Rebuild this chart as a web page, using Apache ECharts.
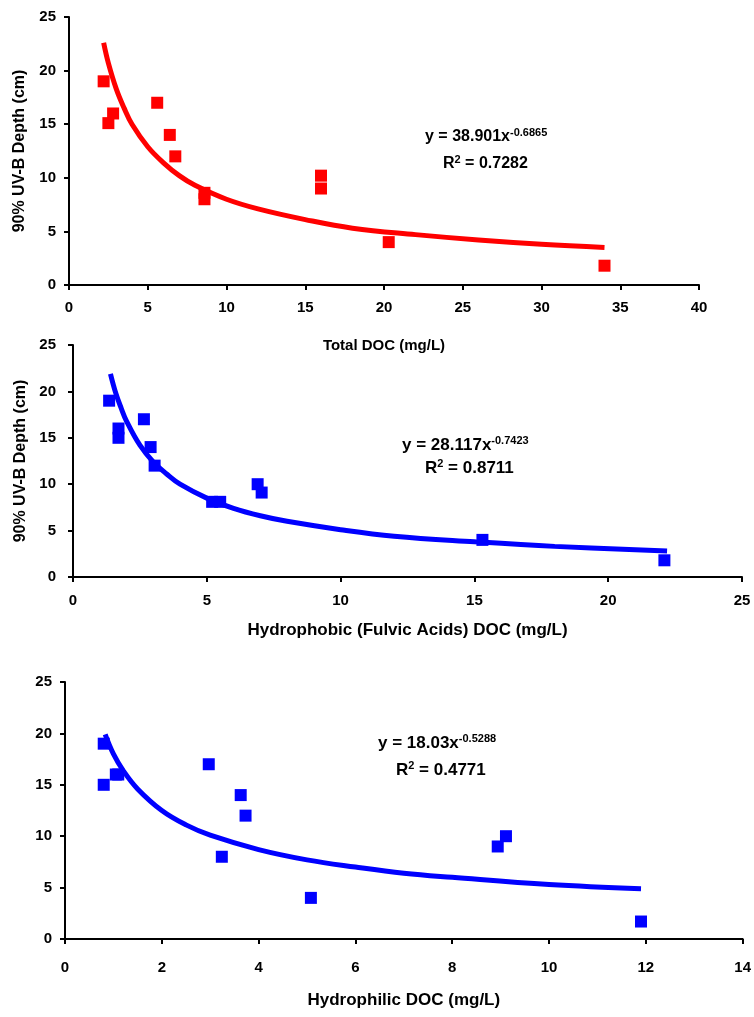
<!DOCTYPE html>
<html>
<head>
<meta charset="utf-8">
<title>UV-B depth vs DOC</title>
<script src="https://cdn.jsdelivr.net/npm/echarts@6/dist/echarts.min.js"></script>
<style>
    html, body { margin: 0; padding: 0; background: #fff; }
    #main { width: 754px; height: 1017px; }
</style>
</head>
<body>
<div id="main"></div>
<script>
    // measured points, [DOC mg/L, 90% UV-B depth cm]
    var totalPts = [[2.2, 19], [2.5, 15.1], [2.8, 16], [5.6, 17], [6.4, 14], [6.75, 12],
        [8.6, 8.6], [8.6, 8], [16, 10.2], [16, 9], [20.3, 4], [34, 1.8]];
    var phobicPts = [[1.35, 19], [1.7, 16], [1.7, 15], [2.65, 17], [2.9, 14], [3.05, 12],
        [5.2, 8.1], [5.5, 8.1], [6.9, 10], [7.05, 9.1], [15.3, 4], [22.1, 1.8]];
    var philicPts = [[0.8, 19], [0.8, 15], [1.05, 16], [1.1, 16], [2.97, 17], [3.63, 14],
        [3.73, 12], [3.24, 8], [5.08, 4], [8.94, 9], [9.11, 10], [11.9, 1.7]];

    // power trendlines
    var totalFit = [[2.2, 22.6], [2.5, 20.7], [3, 18.3], [3.5, 16.5], [4, 15.0], [5, 12.9], [6, 11.4],
        [7, 10.2], [8, 9.3], [10, 8.0], [12, 7.1], [15, 6.1], [18, 5.3], [22, 4.7], [26, 4.2], [30, 3.8], [34, 3.5]];
    var phobicFit = [[1.4, 21.9], [1.6, 19.8], [1.8, 18.2], [2, 16.8], [2.5, 14.2], [3, 12.4], [3.5, 11.1],
        [4, 10.0], [5, 8.5], [6, 7.4], [7, 6.6], [8, 6.0], [10, 5.1], [12, 4.4], [15, 3.8], [18, 3.3], [22.2, 2.8]];
    var philicFit = [[0.83, 19.9], [1, 18.0], [1.2, 16.4], [1.5, 14.6], [2, 12.5], [2.5, 11.1], [3, 10.1],
        [4, 8.7], [5, 7.7], [6, 7.0], [7, 6.4], [8, 6.0], [10, 5.3], [11.9, 4.9]];

    var xNames = ['Total DOC (mg/L)', 'Hydrophobic (Fulvic Acids) DOC (mg/L)', 'Hydrophilic DOC (mg/L)'];
    var yName = '90% UV-B Depth (cm)';
    var xMax = [40, 25, 14];
    var xStep = [5, 5, 2];
    var eqMain = ['y = 38.901x', 'y = 28.117x', 'y = 18.03x'];
    var eqPow = ['-0.6865', '-0.7423', '-0.5288'];
    var rSquared = ['0.7282', '0.8711', '0.4771'];

    var FONT = '"Liberation Sans", Arial, sans-serif';
    var RED = '#ff0000';
    var BLUE = '#0000ff';

    var myChart = echarts.init(document.getElementById('main'));

    function xAxisOf(i, gap, margin, nameSize) {
        return {
            type: 'value', gridIndex: i, min: 0, max: xMax[i], interval: xStep[i],
            name: xNames[i], nameLocation: 'middle', nameGap: gap,
            nameTextStyle: { color: '#000', fontFamily: FONT, fontWeight: 'bold', fontSize: nameSize },
            axisLine: { show: true, lineStyle: { color: '#000', width: 2 } },
            axisTick: { show: true, length: 5, lineStyle: { color: '#000', width: 2 } },
            axisLabel: { color: '#000', fontFamily: FONT, fontWeight: 'bold', fontSize: 15, margin: margin },
            splitLine: { show: false }
        };
    }
    function yAxisOf(i, named, gap, margin) {
        return {
            type: 'value', gridIndex: i, min: 0, max: 25, interval: 5,
            name: named ? yName : '', nameLocation: 'middle', nameGap: gap,
            nameTextStyle: { color: '#000', fontFamily: FONT, fontWeight: 'bold', fontSize: 16 },
            axisLine: { show: true, lineStyle: { color: '#000', width: 2 } },
            axisTick: { show: true, length: 5, lineStyle: { color: '#000', width: 2 } },
            axisLabel: { color: '#000', fontFamily: FONT, fontWeight: 'bold', fontSize: 15, margin: margin },
            splitLine: { show: false }
        };
    }
    function fitLine(i, data, color) {
        return {
            type: 'line', xAxisIndex: i, yAxisIndex: i, data: data,
            showSymbol: false, smooth: 0.4, silent: true,
            lineStyle: { color: color, width: 5 }
        };
    }
    function points(i, data, color) {
        return {
            type: 'scatter', xAxisIndex: i, yAxisIndex: i, data: data,
            symbol: 'rect', symbolSize: 12, itemStyle: { color: color, opacity: 1 }
        };
    }
    // equation + R^2 label
    function eqText(i, x, y, rx, ry, size) {
        var rich = {
            a: { fontFamily: FONT, fontWeight: 'bold', fontSize: size, color: '#000', lineHeight: 20 },
            s: { fontFamily: FONT, fontWeight: 'bold', fontSize: 11, color: '#000', lineHeight: 20, padding: [0, 0, 9, 0] }
        };
        return [
            { type: 'text', x: x, y: y, style: { text: '{a|' + eqMain[i] + '}{s|' + eqPow[i] + '}', rich: rich, verticalAlign: 'middle' } },
            { type: 'text', x: rx, y: ry, style: { text: '{a|R}{s|2}{a| = ' + rSquared[i] + '}', rich: rich, verticalAlign: 'middle' } }
        ];
    }

    var option = {
        animation: false,
        backgroundColor: '#fff',
        grid: [
            { left: 69, top: 17, width: 630, height: 268 },
            { left: 73, top: 345, width: 669, height: 232 },
            { left: 65, top: 682, width: 681, height: 257 }
        ],
        xAxis: [xAxisOf(0, 53, 15, 15), xAxisOf(1, 45, 16, 17), xAxisOf(2, 53, 21, 17)],
        yAxis: [yAxisOf(0, true, 41, 13), yAxisOf(1, true, 44, 17), yAxisOf(2, false, 40, 13)],
        series: [
            fitLine(0, totalFit, RED), points(0, totalPts, RED),
            fitLine(1, phobicFit, BLUE), points(1, phobicPts, BLUE),
            fitLine(2, philicFit, BLUE), points(2, philicPts, BLUE)
        ],
        graphic: [].concat(
            eqText(0, 425, 137, 443, 164, 16),
            eqText(1, 402, 445, 425, 468, 17),
            eqText(2, 378, 743, 396, 770, 17)
        )
    };
    myChart.setOption(option, true);
    window.addEventListener('resize', function () {
        myChart.resize();
    });
</script>
</body>
</html>
